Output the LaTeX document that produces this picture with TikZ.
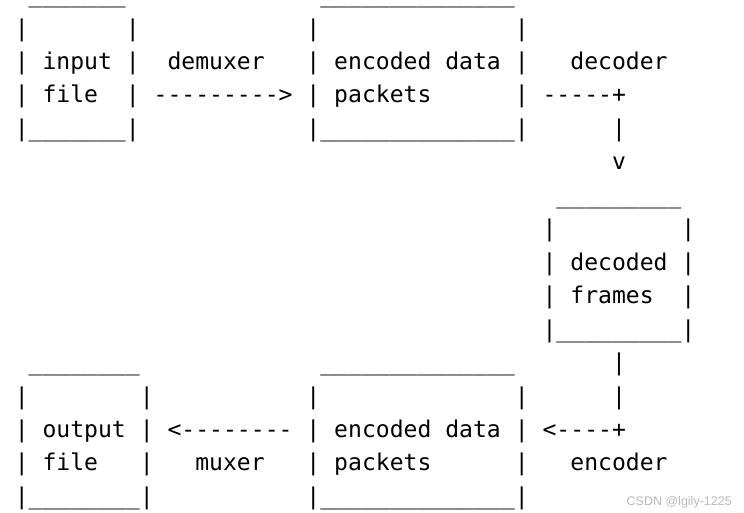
\documentclass[tikz,border=0pt]{standalone}
\usepackage{fontspec}
\setmonofont{DejaVu Sans Mono}
\newfontfamily\markfont{Liberation Sans}

\begin{document}
\begin{tikzpicture}[x=13.89pt,y=-33.45pt,
  ascii/.style={anchor=base west,inner sep=0pt,outer sep=0pt,
    font=\ttfamily\fontsize{23.07pt}{24pt}\selectfont},
  wmark/.style={anchor=base east,inner sep=0pt,text=gray!55,
    font=\markfont\fontsize{12.5pt}{14pt}\selectfont}]
\useasboundingbox (-14.76pt,2.6pt) rectangle (729.24pt,-510.4pt);

 	% input file
 	\node[ascii] (intop) at (1,0) {\_\_\_\_\_\_\_};
 	\node[ascii] (inA) at (0,1) {|~~~~~~~|};
 	\node[ascii] (inB) at (0,2) {|~input~|};
 	\node[ascii] (inC) at (0,3) {|~file~~|};
 	\node[ascii] (inD) at (0,4) {|\_\_\_\_\_\_\_|};

 	\node[ascii] (demux) at (11,2) {demuxer};
 	\node[ascii] (demuxarr) at (10,3) {--------->};

 	% encoded data packets, top
 	\node[ascii] (enctop) at (22,0) {\_\_\_\_\_\_\_\_\_\_\_\_\_\_};
 	\node[ascii] (encA) at (21,1) {|~~~~~~~~~~~~~~|};
 	\node[ascii] (encB) at (21,2) {|~encoded~data~|};
 	\node[ascii] (encC) at (21,3) {|~packets~~~~~~|};
 	\node[ascii] (encD) at (21,4) {|\_\_\_\_\_\_\_\_\_\_\_\_\_\_|};

 	\node[ascii] (dec) at (40,2) {decoder};
 	\node[ascii] (decarrA) at (38,3) {-----+};
 	\node[ascii] (decarrB) at (43,4) {|};
 	\node[ascii] (decarrC) at (43,5) {v};

 	% decoded frames
 	\node[ascii] (frtop) at (39,6) {\_\_\_\_\_\_\_\_\_};
 	\node[ascii] (frA) at (38,7) {|~~~~~~~~~|};
 	\node[ascii] (frB) at (38,8) {|~decoded~|};
 	\node[ascii] (frC) at (38,9) {|~frames~~|};
 	\node[ascii] (frD) at (38,10) {|\_\_\_\_\_\_\_\_\_|};

 	\node[ascii] (encarrA) at (43,11) {|};
 	\node[ascii] (encarrB) at (43,12) {|};
 	\node[ascii] (encarrC) at (38,13) {<----+};
 	\node[ascii] (enc) at (40,14) {encoder};

 	% encoded data packets, bottom
 	\node[ascii] (pktop) at (22,11) {\_\_\_\_\_\_\_\_\_\_\_\_\_\_};
 	\node[ascii] (pkA) at (21,12) {|~~~~~~~~~~~~~~|};
 	\node[ascii] (pkB) at (21,13) {|~encoded~data~|};
 	\node[ascii] (pkC) at (21,14) {|~packets~~~~~~|};
 	\node[ascii] (pkD) at (21,15) {|\_\_\_\_\_\_\_\_\_\_\_\_\_\_|};

 	\node[ascii] (muxarr) at (11,13) {<--------};
 	\node[ascii] (mux) at (13,14) {muxer};

 	% output file
 	\node[ascii] (outtop) at (1,11) {\_\_\_\_\_\_\_\_};
 	\node[ascii] (outA) at (0,12) {|~~~~~~~~|};
 	\node[ascii] (outB) at (0,13) {|~output~|};
 	\node[ascii] (outC) at (0,14) {|~file~~~|};
 	\node[ascii] (outD) at (0,15) {|\_\_\_\_\_\_\_\_|};

 	\node[wmark] (csdn) at (717.2pt,-502.4pt) {CSDN @lgily-1225};
\end{tikzpicture}
\end{document}
